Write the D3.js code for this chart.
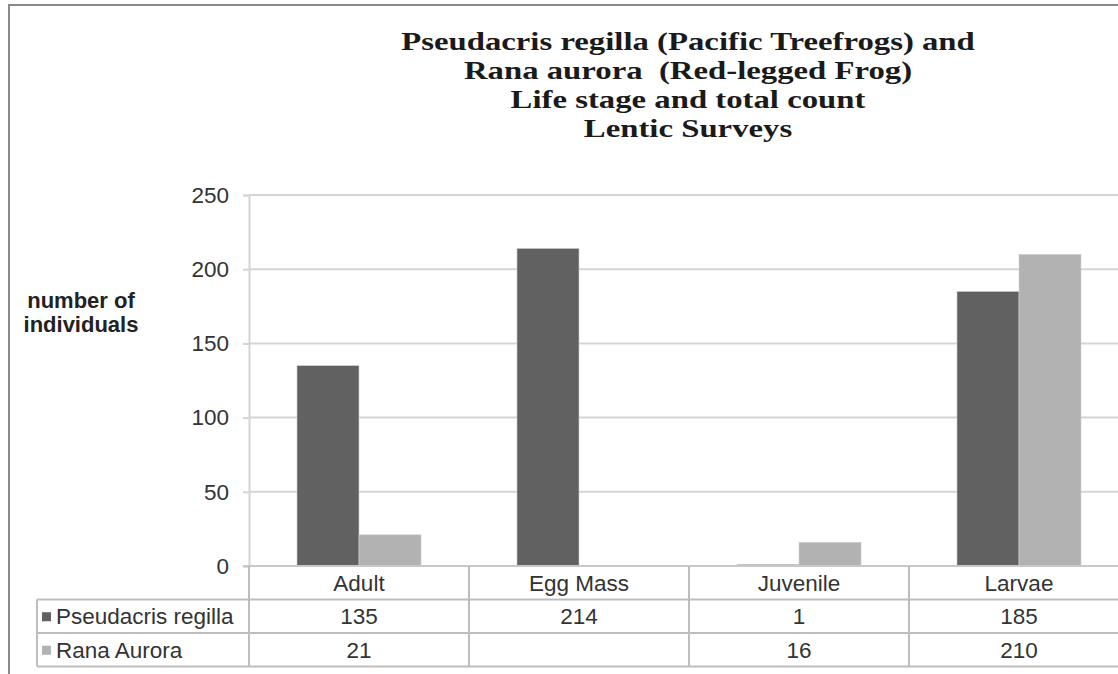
<!DOCTYPE html>
<html>
<head>
<meta charset="utf-8">
<script src="https://cdn.jsdelivr.net/npm/d3@7"></script>
<style>
  body { margin: 0; background: #fff; }
  svg { display: block; }
</style>
</head>
<body>
<div id="chart-area"></div>
<script>
const categories = ["Adult", "Egg Mass", "Juvenile", "Larvae"];
const seriesNames = ["Pseudacris regilla", "Rana Aurora"];
const pseudacris = [135, 214, 1, 185];
const rana = [21, null, 16, 210];
const yTicks = [0, 50, 100, 150, 200, 250];
const titleLines = [
  "Pseudacris regilla (Pacific Treefrogs) and",
  "Rana aurora  (Red-legged Frog)",
  "Life stage and total count",
  "Lentic Surveys"
];
const yTitle = ["number of", "individuals"];
const colors = ["#616161", "#b2b2b2"];

const W = 1118, H = 674;
const svg = d3.select("#chart-area")
  .append("svg")
  .attr("width", W)
  .attr("height", H);

// outer frame (cut off right / bottom)
svg.append("path")
  .attr("d", "M9,674 V5 H1118")
  .attr("fill", "none")
  .attr("stroke", "#8a8a8a")
  .attr("stroke-width", 2);

// title
svg.append("g")
  .attr("transform", "translate(688,0) scale(1.26,1)")
  .selectAll("text")
  .data(titleLines)
  .enter()
  .append("text")
  .attr("x", 0)
  .attr("y", (_, i) => 50 + i * 29)
  .attr("text-anchor", "middle")
  .style("white-space", "pre")
  .attr("font-family", "'Liberation Serif', 'Times New Roman', serif")
  .attr("font-weight", "bold")
  .attr("font-size", 26)
  .attr("fill", "#1a1a1a")
  .text(d => d);

const x = d3.scaleBand().domain(categories).range([249, 1129]);
const xs = d3.scaleBand().domain(seriesNames).range([0, x.bandwidth()]).paddingOuter(0.774);
const y = d3.scaleLinear().domain([0, 250]).range([566, 195]);

// gridlines
svg.append("g").selectAll("line")
  .data(yTicks.slice(1))
  .enter()
  .append("line")
  .attr("x1", 249).attr("x2", W)
  .attr("y1", d => y(d)).attr("y2", d => y(d))
  .attr("stroke", "#d4d4d4")
  .attr("stroke-width", 2);

const font = "'Liberation Sans', Arial, sans-serif";

// y axis
const yAxis = svg.append("g")
  .attr("transform", "translate(249,0)")
  .call(d3.axisLeft(y).tickValues(yTicks).tickSize(6).tickPadding(14));
yAxis.select(".domain").attr("stroke", "#d4d4d4").attr("stroke-width", 2);
yAxis.selectAll(".tick line").attr("stroke", "#d4d4d4").attr("stroke-width", 2);
yAxis.selectAll(".tick text")
  .attr("font-family", font)
  .attr("font-size", 22.5)
  .attr("fill", "#333");

// y title
svg.append("g").selectAll("text")
  .data(yTitle)
  .enter()
  .append("text")
  .attr("x", 81)
  .attr("y", (_, i) => 308 + i * 24)
  .attr("text-anchor", "middle")
  .attr("font-family", font)
  .attr("font-weight", "bold")
  .attr("font-size", 22)
  .attr("fill", "#222")
  .text(d => d);

// bars
const series = [pseudacris, rana];
series.forEach((vals, s) => {
  svg.append("g").selectAll("rect")
    .data(vals.map((v, i) => ({ cat: categories[i], v })).filter(d => d.v != null))
    .enter()
    .append("rect")
    .attr("x", d => x(d.cat) + xs(seriesNames[s]))
    .attr("width", xs.bandwidth())
    .attr("y", d => y(d.v))
    .attr("height", d => y(0) - y(d.v))
    .attr("fill", colors[s])
    .attr("stroke", "#cfcfcf")
    .attr("stroke-width", 0.6);
});

// x axis baseline
svg.append("line")
  .attr("x1", 243).attr("x2", W)
  .attr("y1", y(0)).attr("y2", y(0))
  .attr("stroke", "#c8c8c8").attr("stroke-width", 2);

// data table
const rowH = 33.5;
const tableTop = y(0);
const tableLeft = 37;
const tbl = svg.append("g");
const lineColor = "#bdbdbd";

[1, 2, 3].forEach(r => {
  tbl.append("line")
    .attr("x1", tableLeft).attr("x2", W)
    .attr("y1", tableTop + r * rowH).attr("y2", tableTop + r * rowH)
    .attr("stroke", lineColor).attr("stroke-width", 2);
});
tbl.append("line")
  .attr("x1", tableLeft).attr("x2", tableLeft)
  .attr("y1", tableTop + rowH).attr("y2", tableTop + 3 * rowH)
  .attr("stroke", lineColor).attr("stroke-width", 2);
tbl.selectAll(".vline")
  .data(categories)
  .enter()
  .append("line")
  .attr("class", "vline")
  .attr("x1", d => x(d)).attr("x2", d => x(d))
  .attr("y1", tableTop).attr("y2", tableTop + 3 * rowH)
  .attr("stroke", lineColor).attr("stroke-width", 2);

const tSize = 22.5;
tbl.selectAll(".cat")
  .data(categories)
  .enter()
  .append("text")
  .attr("x", d => x(d) + x.bandwidth() / 2)
  .attr("y", tableTop + rowH / 2)
  .attr("dy", "0.36em")
  .attr("text-anchor", "middle")
  .attr("font-family", font).attr("font-size", tSize).attr("fill", "#333")
  .text(d => d);

series.forEach((vals, s) => {
  const cy = tableTop + (s + 1.5) * rowH;
  tbl.append("rect")
    .attr("x", 42).attr("y", cy - 4)
    .attr("width", 9).attr("height", 9)
    .attr("fill", colors[s]);
  tbl.append("text")
    .attr("x", 56).attr("y", cy).attr("dy", "0.36em")
    .attr("font-family", font).attr("font-size", tSize).attr("fill", "#333")
    .text(seriesNames[s]);
  tbl.selectAll(".v" + s)
    .data(vals.map((v, i) => ({ cat: categories[i], v })))
    .enter()
    .append("text")
    .attr("x", d => x(d.cat) + x.bandwidth() / 2)
    .attr("y", cy).attr("dy", "0.36em")
    .attr("text-anchor", "middle")
    .attr("font-family", font).attr("font-size", tSize).attr("fill", "#333")
    .text(d => d.v == null ? "" : d.v);
});
</script>
</body>
</html>
